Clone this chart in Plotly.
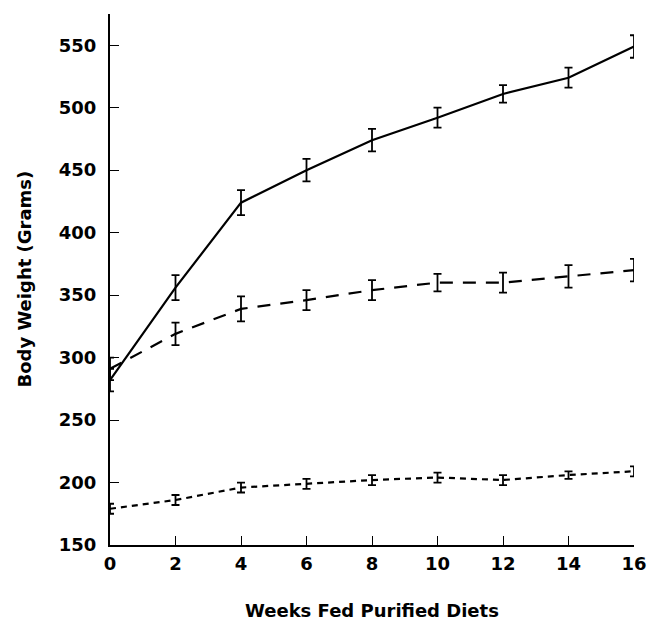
import plotly.graph_objects as go

weeks = [0, 2, 4, 6, 8, 10, 12, 14, 16]

# Solid series (top)
solid_vals = [282, 356, 424, 450, 474, 492, 511, 524, 549]
solid_err = [9, 10, 10, 9, 9, 8, 7, 8, 9]

# Long-dashed series (middle)
dash_vals = [291, 319, 339, 346, 354, 360, 360, 365, 370]
dash_err = [9, 9, 10, 8, 8, 7, 8, 9, 9]

# Short-dashed series (bottom)
dot_vals = [179, 186, 196, 199, 202, 204, 202, 206, 209]
dot_err = [4, 4, 4, 4, 4, 4, 4, 3, 4]

y_ticks = [150, 200, 250, 300, 350, 400, 450, 500, 550]
x_ticks = [0, 2, 4, 6, 8, 10, 12, 14, 16]

FONT = "DejaVu Sans"
TFONT = dict(family=FONT, size=18, color="black", weight="bold")

fig = go.Figure()

def add(vals, err, dash):
    fig.add_trace(go.Scatter(
        x=weeks, y=vals, mode="lines",
        line=dict(color="black", width=2.2, dash=dash),
        error_y=dict(type="data", array=err, visible=True,
                     color="black", thickness=1.8, width=4),
        showlegend=False, cliponaxis=False,
    ))

add(solid_vals, solid_err, "solid")
add(dash_vals, dash_err, "13px,10px")
add(dot_vals, dot_err, "6px,5px")

axis_common = dict(
    showgrid=False, zeroline=False, showline=True,
    linecolor="black", linewidth=2.2,
    ticks="inside", ticklen=9, tickwidth=1, tickcolor="black",
    tickfont=TFONT,
)

fig.update_layout(
    width=647, height=613,
    margin=dict(l=102, r=21, t=6, b=76),
    paper_bgcolor="white", plot_bgcolor="white",
    xaxis=dict(range=[0, 16], tickvals=x_ticks, ticklabelstandoff=1,
               ticktext=[str(v) for v in x_ticks], **axis_common),
    yaxis=dict(range=[150, 575], tickvals=y_ticks, ticklabelstandoff=8,
               ticktext=[str(v) for v in y_ticks], **axis_common),
    annotations=[
        dict(text="Weeks Fed Purified Diets", xref="paper", yref="paper",
             x=0.5, y=-0.124, xanchor="center", yanchor="middle",
             showarrow=False, font=TFONT),
        dict(text="Body Weight (Grams)", xref="paper", yref="paper",
             x=-0.164, y=0.5, xanchor="center", yanchor="middle",
             textangle=-90, showarrow=False, font=TFONT),
    ],
)

fig.write_html("out.html")
